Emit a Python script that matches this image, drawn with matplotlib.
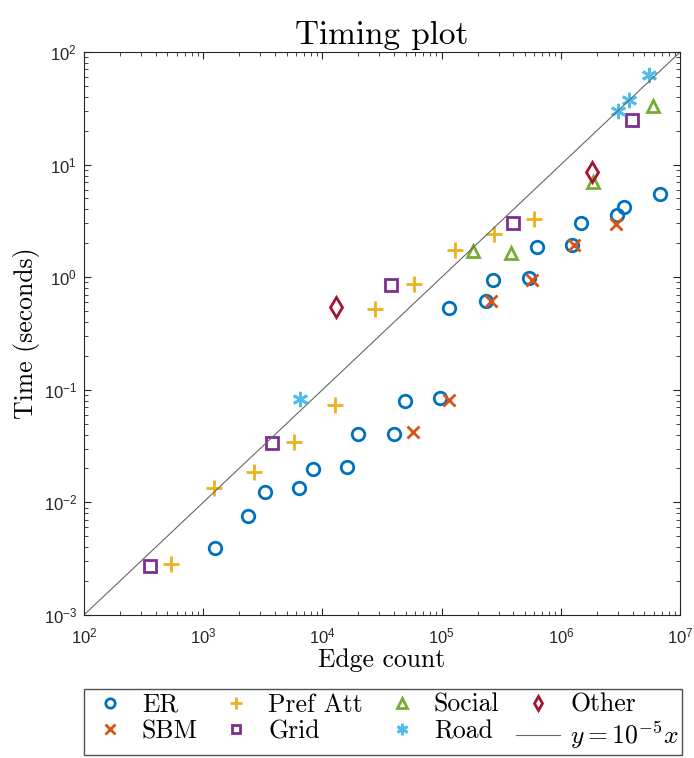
import matplotlib
matplotlib.use("Agg")
import matplotlib.pyplot as plt
from matplotlib.ticker import LogLocator, FuncFormatter, NullFormatter
import numpy as np

plt.rcParams['font.family'] = 'Liberation Sans'
plt.rcParams['mathtext.fontset'] = 'cm'

# Datos (aristas, segundos)
er_x = [1257, 2377, 3300, 6365, 8340, 16080, 19900, 39900, 49300, 97000,
        115400, 235700, 270000, 540600, 631000, 1.24e6, 1.476e6, 2.96e6, 3.39e6, 6.8e6]
er_y = [0.00394, 0.00757, 0.0124, 0.0134, 0.0198, 0.0206, 0.0405, 0.0405, 0.0796, 0.0845,
        0.532, 0.615, 0.944, 0.984, 1.85, 1.93, 3.03, 3.57, 4.21, 5.48]
sbm_x = [57500, 115400, 259600, 573000, 1.29e6, 2.9e6]
sbm_y = [0.0422, 0.0811, 0.615, 0.944, 1.93, 2.98]
pref_x = [537, 1233, 2670, 5780, 12760, 27600, 58700, 129500, 275000, 596000]
pref_y = [0.00284, 0.0134, 0.0186, 0.0344, 0.0733, 0.522, 0.871, 1.747, 2.42, 3.29]
grid_x = [358, 3777, 37650, 397000, 3.95e6]
grid_y = [0.00272, 0.0337, 0.853, 3.03, 24.9]
social_x = [183000, 382000, 1.86e6, 5.93e6]
social_y = [1.71, 1.64, 7.0, 33.1]
road_x = [6490, 3.02e6, 3.73e6, 5.5e6]
road_y = [0.0828, 29.9, 37.5, 62.5]
other_x = [13000, 1.83e6]
other_y = [0.543, 8.6]
line_x = np.array([1e2, 1e7])

fig = plt.figure(figsize=(6.94, 7.58), dpi=100)
ax = fig.add_axes([0.121, 0.1887, 0.859, 0.7427])

ms = 9
mew = 2
ax.plot(er_x, er_y, 'o', mfc='none', mec='#0072BD', ms=ms, mew=mew, label='ER')
ax.plot(sbm_x, sbm_y, 'x', color='#D95319', ms=ms, mew=mew, label='SBM')
ax.plot(pref_x, pref_y, '+', color='#EDB120', ms=ms + 2, mew=mew, label='Pref Att')
ax.plot(grid_x, grid_y, 's', mfc='none', mec='#7E2F8E', ms=ms - 1, mew=mew, label='Grid')
ax.plot(social_x, social_y, '^', mfc='none', mec='#77AC30', ms=ms, mew=mew, label='Social')
ax.plot(road_x, road_y, marker=(6, 2, 0), ls='none', color='#4DBEEE', ms=ms + 2, mew=mew, label='Road')
ax.plot(other_x, other_y, 'd', mfc='none', mec='#A2142F', ms=ms + 1, mew=mew, label='Other')
ax.plot(line_x, 1e-5 * line_x, '-', color='0.4', lw=0.8, label=r'$y = 10^{-5}x$')

ax.set_xscale('log')
ax.set_yscale('log')
ax.set_xlim(1e2, 1e7)
ax.set_ylim(1e-3, 1e2)

fmt = FuncFormatter(lambda v, p: r'$\mathregular{10^{%d}}$' % int(round(np.log10(v))))
ax.xaxis.set_major_locator(LogLocator(base=10, numticks=10))
ax.yaxis.set_major_locator(LogLocator(base=10, numticks=10))
ax.xaxis.set_major_formatter(fmt)
ax.yaxis.set_major_formatter(fmt)
ax.xaxis.set_minor_formatter(NullFormatter())
ax.yaxis.set_minor_formatter(NullFormatter())
ax.tick_params(which='both', direction='in', top=True, right=True, labelsize=12,
               color='0.15', labelcolor='0.15')
ax.tick_params(which='major', length=5)
ax.tick_params(which='minor', length=3)
ax.tick_params(axis='x', pad=8)
ax.tick_params(axis='y', pad=5)
for s in ax.spines.values():
    s.set_color('0.15')
    s.set_linewidth(0.8)

ax.set_title('Timing plot', fontfamily='cmr10', fontsize=24, pad=6)
ax.set_xlabel('Edge count', fontfamily='cmr10', fontsize=18.5, labelpad=2)
ax.set_ylabel('Time (seconds)', fontfamily='cmr10', fontsize=18.5, labelpad=2.5)

leg = fig.legend(loc='upper left', bbox_to_anchor=(84 / 694, 1 - 689 / 758),
                 ncol=4, prop={'family': 'cmr10', 'size': 18.5},
                 handlelength=1.7, handletextpad=0.4, columnspacing=0.65,
                 borderaxespad=0.0, borderpad=0.15, fancybox=False,
                 labelspacing=0.12, markerscale=0.75)
leg.get_frame().set_edgecolor('0.15')
leg.get_frame().set_linewidth(1.0)

fig.savefig('out.png', dpi=100)
